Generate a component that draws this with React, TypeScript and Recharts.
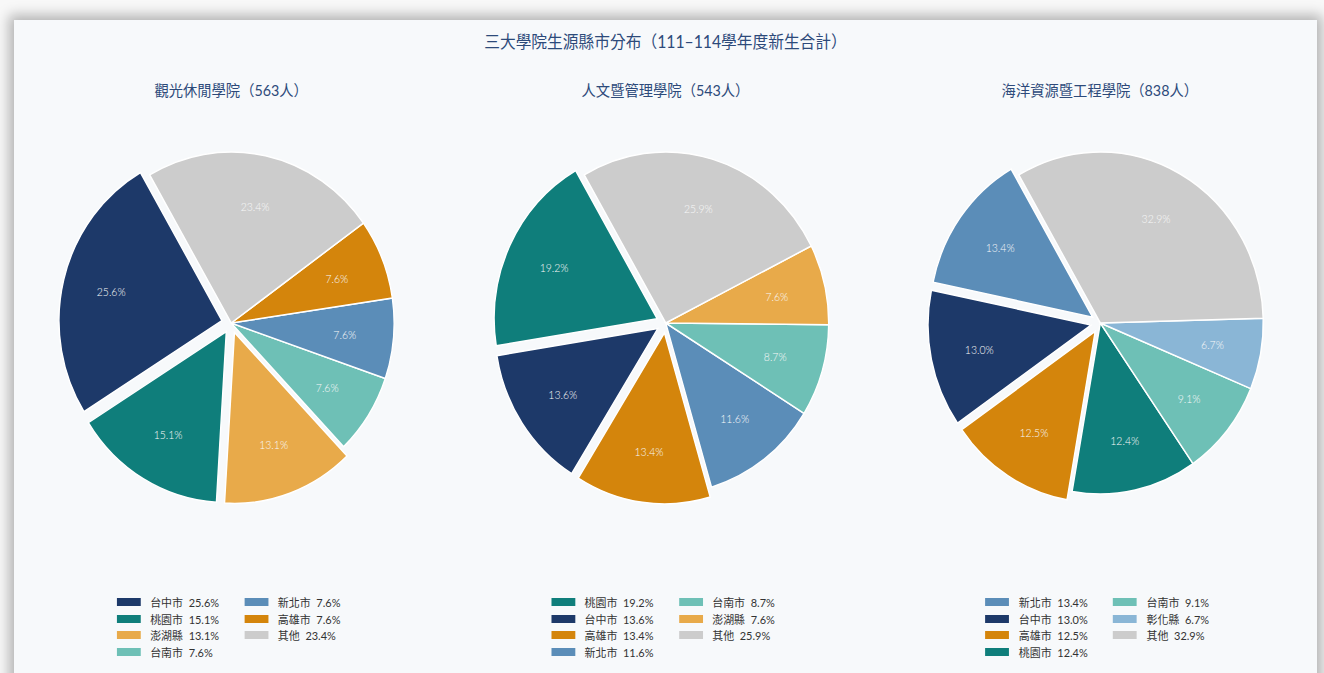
import { Cell, Pie, PieChart } from "recharts";

// reference screenshot is a bit narrower than tall, so the content is squeezed in x
const SQUEEZE = 0.953;
const CARD_W = 1303;
const INNER_W = CARD_W / SQUEEZE;
const COL_W = INNER_W / 3;
const START = 120;
const RADIUS = 171;
const PULL = 10;
const FONT = "Lato, 'Noto Sans CJK TC', sans-serif";

const colors: Record<string, string> = {
  台中市: "#1d3969",
  桃園市: "#0f7e7b",
  澎湖縣: "#e8aa4a",
  台南市: "#6ec0b6",
  新北市: "#5b8db8",
  高雄市: "#d4850c",
  彰化縣: "#8ab6d6",
  其他: "#cccccc",
};

const mainTitle = "三大學院生源縣市分布（111–114學年度新生合計）";

const tourismNames = ["台中市", "桃園市", "澎湖縣", "台南市", "新北市", "高雄市", "其他"];
const tourismValues = [25.6, 15.1, 13.1, 7.6, 7.6, 7.6, 23.4];

const humanitiesNames = ["桃園市", "台中市", "高雄市", "新北市", "台南市", "澎湖縣", "其他"];
const humanitiesValues = [19.2, 13.6, 13.4, 11.6, 8.7, 7.6, 25.9];

const marineNames = ["新北市", "台中市", "高雄市", "桃園市", "台南市", "彰化縣", "其他"];
const marineValues = [13.4, 13.0, 12.5, 12.4, 9.1, 6.7, 32.9];

const colleges = [
  { title: "觀光休閒學院（563人）", names: tourismNames, values: tourismValues },
  { title: "人文暨管理學院（543人）", names: humanitiesNames, values: humanitiesValues },
  { title: "海洋資源暨工程學院（838人）", names: marineNames, values: marineValues },
];

// first three slices are pulled out
const pulledCount = 3;

function CollegePie({ names, values }: { names: string[]; values: number[] }) {
  const data = names.map((name, i) => ({ name, value: values[i] }));
  const total = values.reduce((a, b) => a + b, 0);
  const cx = COL_W / 2;
  const cy = 303;
  let cum = 0;
  const offsets = values.map((v, i) => {
    const mid = ((START + ((cum + v / 2) / total) * 360) * Math.PI) / 180;
    cum += v;
    const d = i < pulledCount ? PULL : 0;
    return { dx: d * Math.cos(mid), dy: -d * Math.sin(mid) };
  });

  const labelFor = (only: number) => (p: any) => {
    if (p.index !== only) return null;
    const a = (-p.midAngle * Math.PI) / 180;
    const r = p.outerRadius * 0.7;
    return (
      <text
        x={p.cx + r * Math.cos(a)}
        y={p.cy + r * Math.sin(a)}
        fill="#f8f8f8"
        fontSize={11}
        fontWeight={300}
        fontFamily={FONT}
        textAnchor="middle"
        dominantBaseline="central"
      >
        {p.value.toFixed(1)}%
      </text>
    );
  };

  return (
    <PieChart width={COL_W} height={560} margin={{ top: 0, right: 0, bottom: 0, left: 0 }}>
      {data.map((slice, i) => (
        <Pie
          key={slice.name}
          data={data}
          dataKey="value"
          nameKey="name"
          cx={cx + offsets[i].dx}
          cy={cy + offsets[i].dy}
          outerRadius={RADIUS}
          startAngle={START}
          endAngle={START + 360}
          stroke="#ffffff"
          strokeWidth={1.5}
          labelLine={false}
          label={labelFor(i)}
          isAnimationActive={false}
        >
          {data.map((d, j) => (
            <Cell
              key={d.name}
              fill={j === i ? colors[d.name] : "transparent"}
              stroke={j === i ? "#ffffff" : "none"}
            />
          ))}
        </Pie>
      ))}
    </PieChart>
  );
}

function CollegeLegend({ names, values }: { names: string[]; values: number[] }) {
  const rows = Math.ceil(names.length / 2);
  const cols = [names.slice(0, rows), names.slice(rows)];
  return (
    <div style={{ display: "flex", gap: 0 }}>
      {cols.map((col, c) => (
        <div key={c} style={{ width: 134 }}>
          {col.map((name) => {
            const v = values[names.indexOf(name)];
            return (
              <div key={name} style={{ display: "flex", alignItems: "center", height: 16.5 }}>
                <span
                  style={{
                    display: "inline-block",
                    width: 25,
                    height: 8,
                    background: colors[name],
                    marginRight: 10,
                  }}
                />
                <span style={{ fontSize: 11.5, color: "#333", whiteSpace: "pre" }}>
                  {name}  {v.toFixed(1)}%
                </span>
              </div>
            );
          })}
        </div>
      ))}
    </div>
  );
}

export default function App() {
  return (
    <div
      style={{
        position: "fixed",
        left: 0,
        top: 0,
        width: 1324,
        height: 673,
        overflow: "hidden",
        background: "#f8f8f8",
        fontFamily: FONT,
      }}
    >
      <div
        style={{
          position: "absolute",
          left: 14,
          top: 20,
          width: CARD_W,
          height: 680,
          background: "#f7f9fb",
          boxShadow: "0 0 12px 5px rgba(0,0,0,0.28)",
        }}
      >
        <div
          style={{
            position: "absolute",
            left: 0,
            top: 0,
            width: INNER_W,
            height: 680,
            transform: `scaleX(${SQUEEZE})`,
            transformOrigin: "0 0",
          }}
        >
          <div
            style={{
              position: "absolute",
              top: 9,
              width: INNER_W,
              textAlign: "center",
              fontSize: 16.5,
              color: "#2d4a7a",
            }}
          >
            {mainTitle}
          </div>
          {colleges.map((c, i) => (
            <div key={c.title} style={{ position: "absolute", left: i * COL_W, top: 0, width: COL_W, height: 680 }}>
              <div
                style={{
                  position: "absolute",
                  top: 59,
                  width: COL_W,
                  textAlign: "center",
                  fontSize: 15,
                  color: "#2d4a7a",
                }}
              >
                {c.title}
              </div>
              <div style={{ position: "absolute", top: 0, left: 0 }}>
                <CollegePie names={c.names} values={c.values} />
              </div>
              <div style={{ position: "absolute", top: 574, left: COL_W / 2 - 120 }}>
                <CollegeLegend names={c.names} values={c.values} />
              </div>
            </div>
          ))}
        </div>
      </div>
    </div>
  );
}
